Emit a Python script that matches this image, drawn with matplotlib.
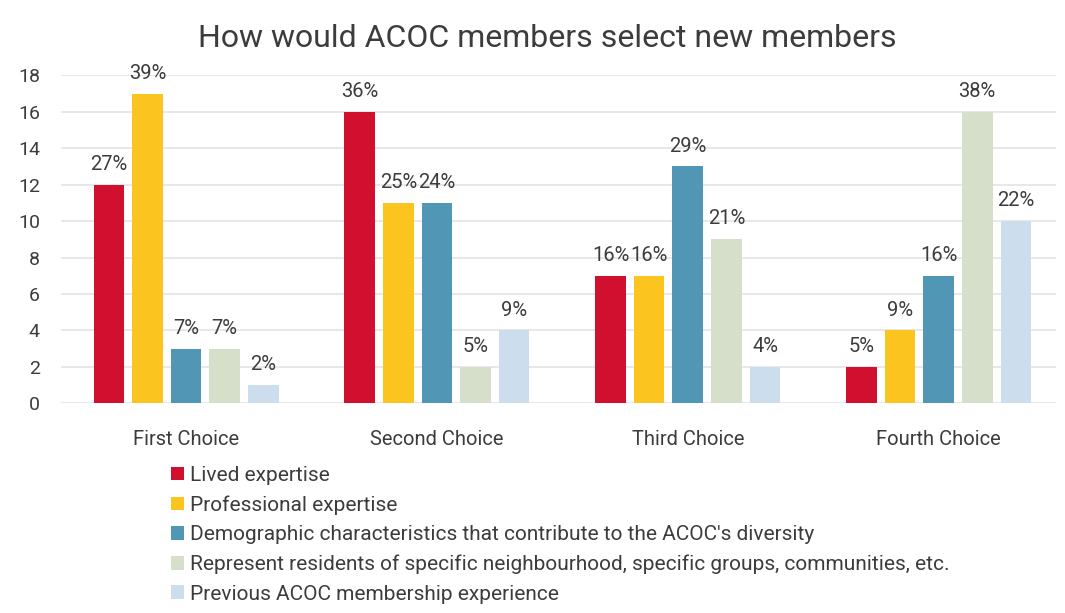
import numpy as np
import matplotlib
matplotlib.use("Agg")
import matplotlib.pyplot as plt

plt.rcParams["font.family"] = ["Roboto", "DejaVu Sans"]

# survey counts per choice rank
choices = ["First Choice", "Second Choice", "Third Choice", "Fourth Choice"]
series = [
    "Lived expertise",
    "Professional expertise",
    "Demographic characteristics that contribute to the ACOC's diversity",
    "Represent residents of specific neighbourhood, specific groups, communities, etc.",
    "Previous ACOC membership experience",
]
counts = [
    [12, 16, 7, 2],
    [17, 11, 7, 4],
    [3, 11, 13, 7],
    [3, 2, 9, 16],
    [1, 4, 2, 10],
]
pct_labels = [
    ["27%", "36%", "16%", "5%"],
    ["39%", "25%", "16%", "9%"],
    ["7%", "24%", "29%", "16%"],
    ["7%", "5%", "21%", "38%"],
    ["2%", "9%", "4%", "22%"],
]
colors = ["#D0102E", "#FCC41E", "#5296B5", "#D5DFCA", "#CCDDED"]
text_col = "#3C3C3C"

fig = plt.figure(figsize=(10.65, 6.13), dpi=100)
ax = fig.add_axes([0.057, 0.342, 0.935, 0.535])

x = np.arange(len(choices))
slot = 0.154
width = 0.122
for i, (vals, labs, c) in enumerate(zip(counts, pct_labels, colors)):
    xs = x + (i - 2) * slot
    ax.bar(xs, vals, width, color=c, label=series[i], zorder=2)
    for xi, v, t in zip(xs, vals, labs):
        ax.text(xi, v + 0.6, t, ha="center", va="bottom", fontsize=14.5,
                color=text_col, zorder=3)

ax.set_ylim(0, 18)
ax.set_xlim(-0.5, 3.47)
ax.set_yticks(range(0, 19, 2))
ax.yaxis.grid(True, color="#E4E4E4", linewidth=1.2, zorder=0)
ax.set_axisbelow(True)
ax.tick_params(axis="y", length=0, pad=15, labelsize=14, labelcolor=text_col)
ax.tick_params(axis="x", length=0, pad=19, labelsize=14.5, labelcolor=text_col)
ax.set_xticks(x)
ax.set_xticklabels(choices)
for s in ax.spines.values():
    s.set_visible(False)

fig.text(0.514, 0.938, "How would ACOC members select new members",
         ha="center", va="center", fontsize=23, color=text_col)

fig.legend(loc="upper left", bbox_to_anchor=(0.151, 0.257), frameon=False,
           fontsize=15, handlelength=0.62, handleheight=0.62,
           handletextpad=0.3, labelspacing=0.5, labelcolor=text_col,
           borderpad=0)

fig.savefig("out.png", dpi=100)
